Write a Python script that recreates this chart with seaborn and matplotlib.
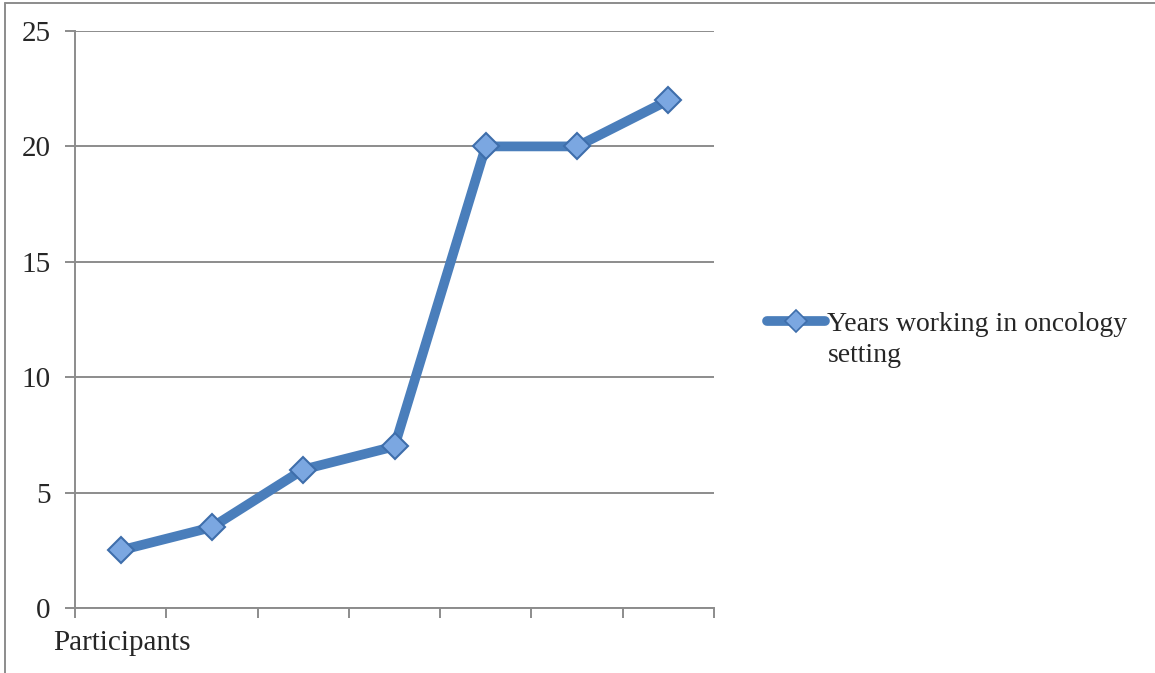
import numpy as np
import pandas as pd
import matplotlib
matplotlib.use("Agg")
import matplotlib.pyplot as plt
from matplotlib.lines import Line2D
import seaborn as sns

participants = [1, 2, 3, 4, 5, 6, 7]
years_oncology = [2.5, 3.5, 6, 7, 20, 20, 22]
y_ticks = [0, 5, 10, 15, 20, 25]
series_label = "Years working in oncology"

LINE_BLUE = "#4a7ebb"
MARKER_FILL = "#7ba7e1"
MARKER_EDGE = "#3e6eab"
GRID_GRAY = "#8c8c8c"

sns.set_style("white")
plt.rcParams["font.family"] = ["Liberation Serif", "DejaVu Serif"]

df = pd.DataFrame({"participant": participants, "years": years_oncology})

fig = plt.figure(figsize=(11.55, 6.73), dpi=100)
ax = fig.add_axes([75 / 1155, 1 - 608 / 673, (714 - 75) / 1155, (608 - 31) / 673])

sns.lineplot(data=df, x="participant", y="years", ax=ax, color=LINE_BLUE,
             linewidth=7, marker="D", markersize=13.5,
             markerfacecolor=MARKER_FILL, markeredgecolor=MARKER_EDGE,
             markeredgewidth=1.5, zorder=3)

ax.set_xlim(0.5, len(participants) + 0.5)
ax.set_ylim(0, 25)
ax.set_xticks(np.arange(0.5, len(participants) + 1, 1))
ax.set_xticklabels([])
ax.set_yticks(y_ticks)
ax.set_yticklabels([str(t) for t in y_ticks], fontsize=21)
ax.set_xlabel("")
ax.set_ylabel("")

ax.grid(axis="y", color=GRID_GRAY, linewidth=1.4)
ax.set_axisbelow(True)
for side in ["top", "right"]:
    ax.spines[side].set_visible(False)
for side in ["left", "bottom"]:
    ax.spines[side].set_color(GRID_GRAY)
    ax.spines[side].set_linewidth(1.4)
ax.tick_params(axis="both", which="both", color=GRID_GRAY, width=1.4,
               length=7, direction="out", left=True, bottom=True)
ax.tick_params(axis="y", pad=10.5)

fig.text(53 / 1155, 1 - 643 / 673, "Participants", fontsize=21, va="center", ha="left")

handle = Line2D([], [], color=LINE_BLUE, linewidth=7, marker="D", markersize=11,
                markerfacecolor=MARKER_FILL, markeredgecolor=MARKER_EDGE,
                markeredgewidth=1.2)
fig.legend([handle], [series_label], loc="center left",
           bbox_to_anchor=(767 / 1155, 1 - 324 / 673), frameon=False,
           fontsize=20, handlelength=2.1, handletextpad=0.05, borderpad=0,
           borderaxespad=0)
fig.text(828 / 1155, 1 - 355 / 673, "setting", fontsize=20, va="center", ha="left")

# outer chart frame (top and left edges visible)
fig.add_artist(Line2D([5 / 1155, 1], [1 - 3 / 673, 1 - 3 / 673], color=GRID_GRAY,
                      linewidth=1.4, transform=fig.transFigure))
fig.add_artist(Line2D([5 / 1155, 5 / 1155], [0, 1 - 3 / 673], color=GRID_GRAY,
                      linewidth=1.4, transform=fig.transFigure))

fig.savefig("out.png", dpi=100)
plt.close(fig)
